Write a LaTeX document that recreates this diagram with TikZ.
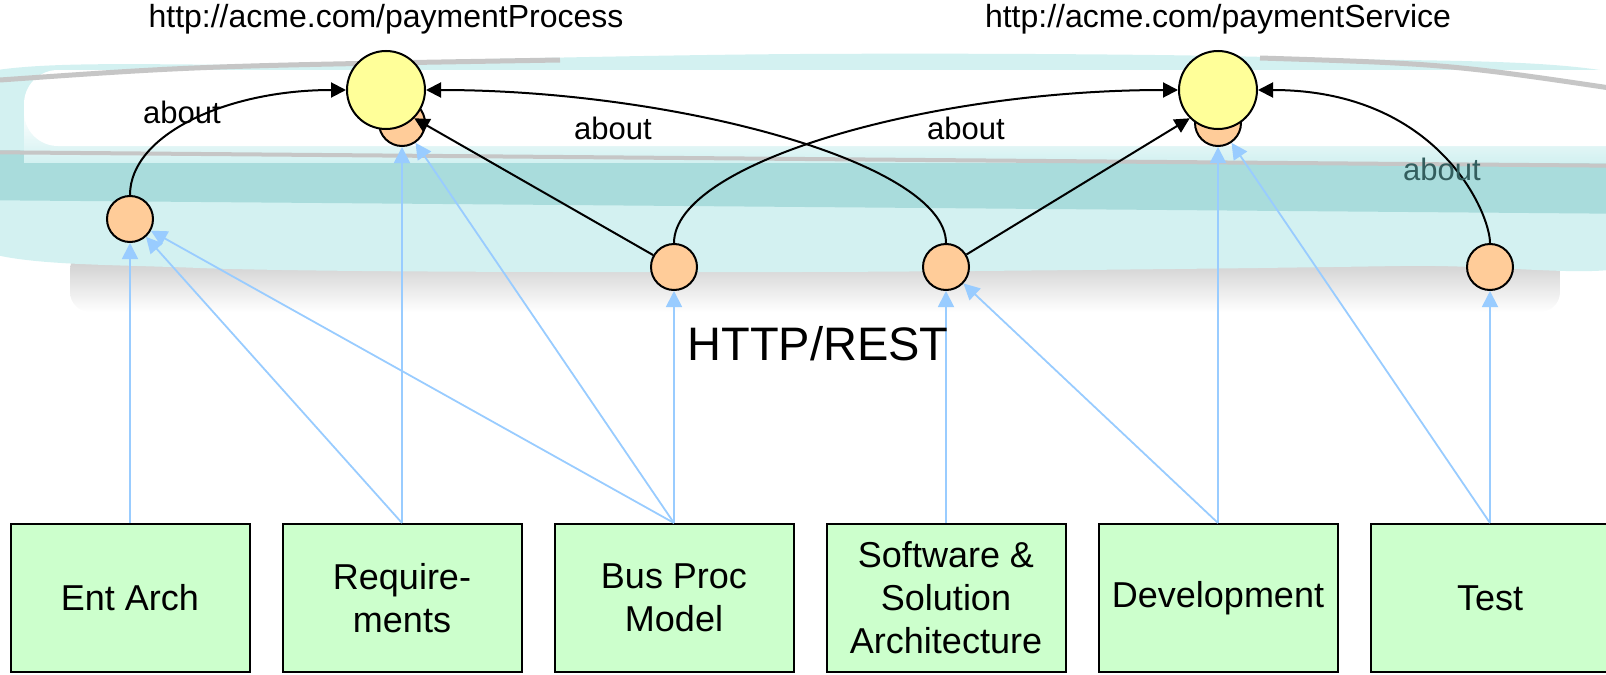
\documentclass[tikz,border=0pt]{standalone}
\usepackage{fontspec}
\setmainfont{Liberation Sans}
\usepackage{xcolor}
\usepackage{tikz}
\usetikzlibrary{arrows.meta,positioning,calc}

\definecolor{boxgreen}{HTML}{CCFFCC}
\definecolor{resorange}{HTML}{FFCC99}
\definecolor{uriyellow}{HTML}{FFFF99}
\definecolor{linkblue}{HTML}{99CCFF}
\definecolor{cloudteal}{HTML}{A9DCDC}
\definecolor{cloudpale}{HTML}{D3F1F1}
\definecolor{cloudshadow}{HTML}{C6C6C6}
\definecolor{aboutgrey}{HTML}{335E5E}

\begin{document}
\begin{tikzpicture}[
        node distance=31bp,
        role/.style={rectangle, draw, fill=boxgreen, minimum width=239bp, minimum height=148bp, align=center, line width=2bp, font=\fontsize{36bp}{43bp}\selectfont},
        res/.style={circle, draw, fill=resorange, minimum size=46bp, inner sep=0pt, line width=2bp},
        uri/.style={circle, draw, fill=uriyellow, minimum size=78bp, inner sep=0pt, line width=2bp},
        about/.style={draw, -{Triangle[length=15bp,width=15bp]}, line width=2bp},
        trace/.style={draw=linkblue, -{Triangle[length=16bp,width=16bp]}, line width=1.8bp},
        lbl/.style={font=\fontsize{31bp}{37bp}\selectfont},
        url/.style={font=\fontsize{32bp}{38bp}\selectfont}
    ]
    \useasboundingbox (0bp,0bp) rectangle (1606bp,-675bp);

    % Cloud behind the graph
    \shade[top color=cloudshadow, middle color=cloudshadow, bottom color=white, rounded corners=20bp] (70bp,-250bp) rectangle (1560bp,-312bp);
    \fill[cloudpale] plot[smooth cycle] coordinates {(-40bp,-80bp) (300bp,-64bp) (800bp,-54bp) (1300bp,-58bp) (1650bp,-84bp) (1650bp,-258bp) (1400bp,-266bp) (800bp,-272bp) (200bp,-268bp) (-40bp,-240bp)};
    \fill[cloudteal] (-40bp,-150bp) -- (1650bp,-164bp) -- (1650bp,-214bp) -- (-40bp,-200bp) -- cycle;
    \shade[top color=white, bottom color=cloudpale] (24bp,-112bp) rectangle (1650bp,-162bp);
    \fill[white, rounded corners=34bp] (24bp,-70bp) rectangle (1650bp,-146bp);
    \draw[cloudshadow, line width=5bp] (0bp,-80bp) .. controls (200bp,-66bp) .. (560bp,-60bp);
    \draw[cloudshadow, line width=5bp] (1260bp,-58bp) .. controls (1450bp,-64bp) .. (1650bp,-94bp);
    \draw[cloudshadow, line width=4bp] (-40bp,-152bp) -- (1650bp,-166bp);

    % Roles
    \node [role] (ea) at (130bp,-598bp) {Ent Arch};
    \node [role, right=of ea] (req) {Require-\\ments};
    \node [role, right=of req] (bpm) {Bus Proc\\Model};
    \node [role, right=of bpm] (ssa) {Software \&\\Solution\\Architecture};
    \node [role, right=of ssa] (dev) {Development};
    \node [role, right=of dev] (test) {Test};

    % Resources
    \node [res, above=280bp of ea] (eac) {};
    \node [res, above=376bp of req] (reqc) {};
    \node [res, above=232bp of bpm] (bpmc) {};
    \node [res, above=232bp of ssa] (ssac) {};
    \node [res, above=376bp of dev] (devc) {};
    \node [res, above=232bp of test] (testc) {};

    % URIs
    \node [uri] (proc) at ([shift={(-16bp,33bp)}]reqc.center) {};
    \node [uri] (serv) at ([yshift=33bp]devc.center) {};
    \node [url, above=12bp of proc] (procurl) {http://acme.com/paymentProcess};
    \node [url, above=12bp of serv] (servurl) {http://acme.com/paymentService};

    % Trace arrows from the roles
    \path [trace] (ea) -- (eac);
    \path [trace] (req.north) -- (eac);
    \path [trace] (req) -- (reqc);
    \path [trace] (bpm.north) -- (eac);
    \path [trace] (bpm.north) -- (reqc);
    \path [trace] (bpm) -- (bpmc);
    \path [trace] (ssa) -- (ssac);
    \path [trace] (dev.north) -- (ssac);
    \path [trace] (dev) -- (devc);
    \path [trace] (test.north) -- (devc);
    \path [trace] (test) -- (testc);

    % about arrows
    \path [about] (eac.north) .. controls +(0bp,60bp) and +(-120bp,0bp) .. (proc.west);
    \path [about] (ssac.north) .. controls +(0bp,80bp) and +(250bp,0bp) .. (proc.east);
    \path [about] (bpmc.north) .. controls +(0bp,80bp) and +(-250bp,0bp) .. (serv.west);
    \path [about] (testc.north) .. controls +(0bp,30bp) and +(180bp,0bp) .. (serv.east);
    \path [about] (bpmc) -- (proc.-45);
    \path [about] (ssac) -- (serv.-135);
    \node [lbl] (ab1) at (182bp,-112bp) {about};
    \node [lbl] (ab2) at (613bp,-128bp) {about};
    \node [lbl] (ab3) at (966bp,-128bp) {about};
    \node [lbl, text=aboutgrey] (ab4) at (1442bp,-169bp) {about};

    % Protocol
    \node [font=\fontsize{47bp}{56bp}\selectfont, anchor=base] (rest) at (818bp,-360bp) {HTTP/REST};

\end{tikzpicture}
\end{document}
